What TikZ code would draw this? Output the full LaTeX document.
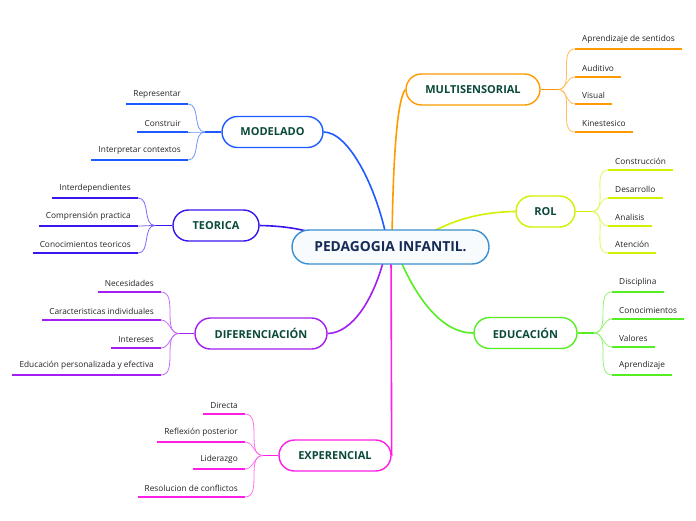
\documentclass[tikz,border=0pt]{standalone}
\usepackage{fontspec}
\setmainfont{Open Sans}
\usetikzlibrary{calc}
\pgfdeclarelayer{background}
\pgfsetlayers{background,main}
\definecolor{cModel}{HTML}{1E5AFF}
\definecolor{cTeor}{HTML}{3C14F0}
\definecolor{cDif}{HTML}{A21EF2}
\definecolor{cExp}{HTML}{FF1EE6}
\definecolor{cMul}{HTML}{FF9A00}
\definecolor{cRol}{HTML}{D2F000}
\definecolor{cEdu}{HTML}{55EE22}
\definecolor{cCen}{HTML}{3A8FD0}
\definecolor{cCenFill}{HTML}{F7FBFE}
\definecolor{nodeText}{HTML}{0B4A3A}
\definecolor{cenText}{HTML}{152A55}
\definecolor{leafText}{HTML}{222222}
\tikzset{
  branchbox/.style={draw=#1, line width=1.4pt, rounded corners=15.5pt, minimum height=31pt,
    fill=white, inner sep=0pt, text=nodeText, font=\bfseries\fontsize{11}{13}\selectfont},
  leafL/.style={anchor=south east, inner xsep=7pt, inner ysep=5pt, text=leafText,
    font=\fontsize{8.3}{9}\selectfont},
  leafR/.style={anchor=south west, inner xsep=7pt, inner ysep=5pt, text=leafText,
    font=\fontsize{8.3}{9}\selectfont},
  uline/.style={draw=#1, line width=2pt},
  subline/.style={draw=#1!65!white, line width=0.8pt},
  stub/.style={draw=#1, line width=1.2pt},
  mainline/.style={draw=#1, line width=1.6pt},
}
\begin{document}
\begin{tikzpicture}[x=1pt,y=-1pt]
\useasboundingbox (0,0) rectangle (696,520);

% central node
\node[draw=cCen, line width=1.4pt, fill=cCenFill, rounded corners=17pt, minimum width=197pt,
  minimum height=34pt, inner sep=0pt, text=cenText, font=\bfseries\fontsize{13.8}{15}\selectfont]
  (cen) at (390.5,247) {PEDAGOGIA INFANTIL.};

% branch nodes
\node[branchbox=cModel, minimum width=101pt] (mod) at (272.5,132) {MODELADO};
\node[branchbox=cTeor, minimum width=86pt] (teo) at (216,225.5) {TEORICA};
\node[branchbox=cDif, minimum width=132pt] (dif) at (261,333.5) {DIFERENCIACIÓN};
\node[branchbox=cExp, minimum width=112pt] (exp) at (335,455.5) {EXPERENCIAL};
\node[branchbox=cMul, minimum width=134pt] (mul) at (473,89.5) {MULTISENSORIAL};
\node[branchbox=cRol, minimum width=59pt] (rol) at (545.5,211.5) {ROL};
\node[branchbox=cEdu, minimum width=103pt] (edu) at (525.5,333) {EDUCACIÓN};

% main connectors
\begin{pgfonlayer}{background}
\draw[mainline=cModel] (mod.east) .. controls (348,132) and (376,185) .. (387,240);
\draw[mainline=cTeor] (teo.east) .. controls (285,226) and (300,229) .. (318,234);
\draw[mainline=cMul] (mul.west) .. controls (397,100) and (393,160) .. (392,240);
\draw[mainline=cRol] (rol.west) .. controls (480,212) and (452,220) .. (425,236);
\draw[mainline=cEdu] (edu.west) .. controls (440,333) and (415,295) .. (398,255);
\draw[mainline=cDif] (dif.east) .. controls (352,333) and (374,300) .. (385,255);
\draw[mainline=cExp] (391,255) -- (exp.east);
\end{pgfonlayer}

% join points
\coordinate (jmod) at (205,132);
\coordinate (jteo) at (155,225.5);
\coordinate (jdif) at (179,333.5);
\coordinate (jexp) at (263,455.5);
\coordinate (jmul) at (558,89.5);
\coordinate (jrol) at (592,211.5);
\coordinate (jedu) at (594,333);
\draw[stub=cModel] (jmod) -- (mod.west);
\draw[stub=cTeor] (jteo) -- (teo.west);
\draw[stub=cDif] (jdif) -- (dif.west);
\draw[stub=cExp] (jexp) -- (exp.west);
\draw[stub=cMul] (mul.east) -- (jmul);
\draw[stub=cRol] (rol.east) -- (jrol);
\draw[stub=cEdu] (edu.east) -- (jedu);

% MODELADO leaves
\node[leafL] (m1) at (188,104) {Representar};
\node[leafL] (m2) at (188,132) {Construir};
\node[leafL] (m3) at (188,160) {Interpretar contextos};
\foreach \n in {m1,m2,m3}{
  \draw[uline=cModel] (\n.south west) -- (\n.south east);
  \draw[subline=cModel] (\n.south east) to[out=0,in=180] (jmod);
}

% TEORICA leaves
\node[leafL] (t1) at (138,198) {Interdependientes};
\node[leafL] (t2) at (138,226) {Comprensión practica};
\node[leafL] (t3) at (138,253) {Conocimientos teoricos};
\foreach \n in {t1,t2,t3}{
  \draw[uline=cTeor] (\n.south west) -- (\n.south east);
  \draw[subline=cTeor] (\n.south east) to[out=0,in=180] (jteo);
}

% DIFERENCIACION leaves
\node[leafL] (d1) at (161,292) {Necesidades};
\node[leafL] (d2) at (161,320) {Caracteristicas individuales};
\node[leafL] (d3) at (161,348) {Intereses};
\node[leafL] (d4) at (161,375) {Educación personalizada y efectiva};
\foreach \n in {d1,d2,d3,d4}{
  \draw[uline=cDif] (\n.south west) -- (\n.south east);
  \draw[subline=cDif] (\n.south east) to[out=0,in=180] (jdif);
}

% EXPERENCIAL leaves
\node[leafL] (e1) at (245,414) {Directa};
\node[leafL] (e2) at (245,442) {Reflexión posterior};
\node[leafL] (e3) at (245,469) {Liderazgo};
\node[leafL] (e4) at (245,497) {Resolucion de conflictos};
\foreach \n in {e1,e2,e3,e4}{
  \draw[uline=cExp] (\n.south west) -- (\n.south east);
  \draw[subline=cExp] (\n.south east) to[out=0,in=180] (jexp);
}

% MULTISENSORIAL leaves
\node[leafR] (u1) at (575,49) {Aprendizaje de sentidos};
\node[leafR] (u2) at (575,77) {Auditivo};
\node[leafR] (u3) at (575,104) {Visual};
\node[leafR] (u4) at (575,132) {Kinestesico};
\foreach \n in {u1,u2,u3,u4}{
  \draw[uline=cMul] (\n.south west) -- (\n.south east);
  \draw[subline=cMul] (jmul) to[out=0,in=180] (\n.south west);
}

% ROL leaves
\node[leafR] (r1) at (608,170) {Construcción};
\node[leafR] (r2) at (608,198) {Desarrollo};
\node[leafR] (r3) at (608,226) {Analisis};
\node[leafR] (r4) at (608,253) {Atención};
\foreach \n in {r1,r2,r3,r4}{
  \draw[uline=cRol] (\n.south west) -- (\n.south east);
  \draw[subline=cRol] (jrol) to[out=0,in=180] (\n.south west);
}

% EDUCACION leaves
\node[leafR] (c1) at (612,292) {Disciplina};
\node[leafR] (c2) at (612,319) {Conocimientos};
\node[leafR] (c3) at (612,347) {Valores};
\node[leafR] (c4) at (612,375) {Aprendizaje};
\foreach \n in {c1,c2,c3,c4}{
  \draw[uline=cEdu] (\n.south west) -- (\n.south east);
  \draw[subline=cEdu] (jedu) to[out=0,in=180] (\n.south west);
}
\end{tikzpicture}
\end{document}
